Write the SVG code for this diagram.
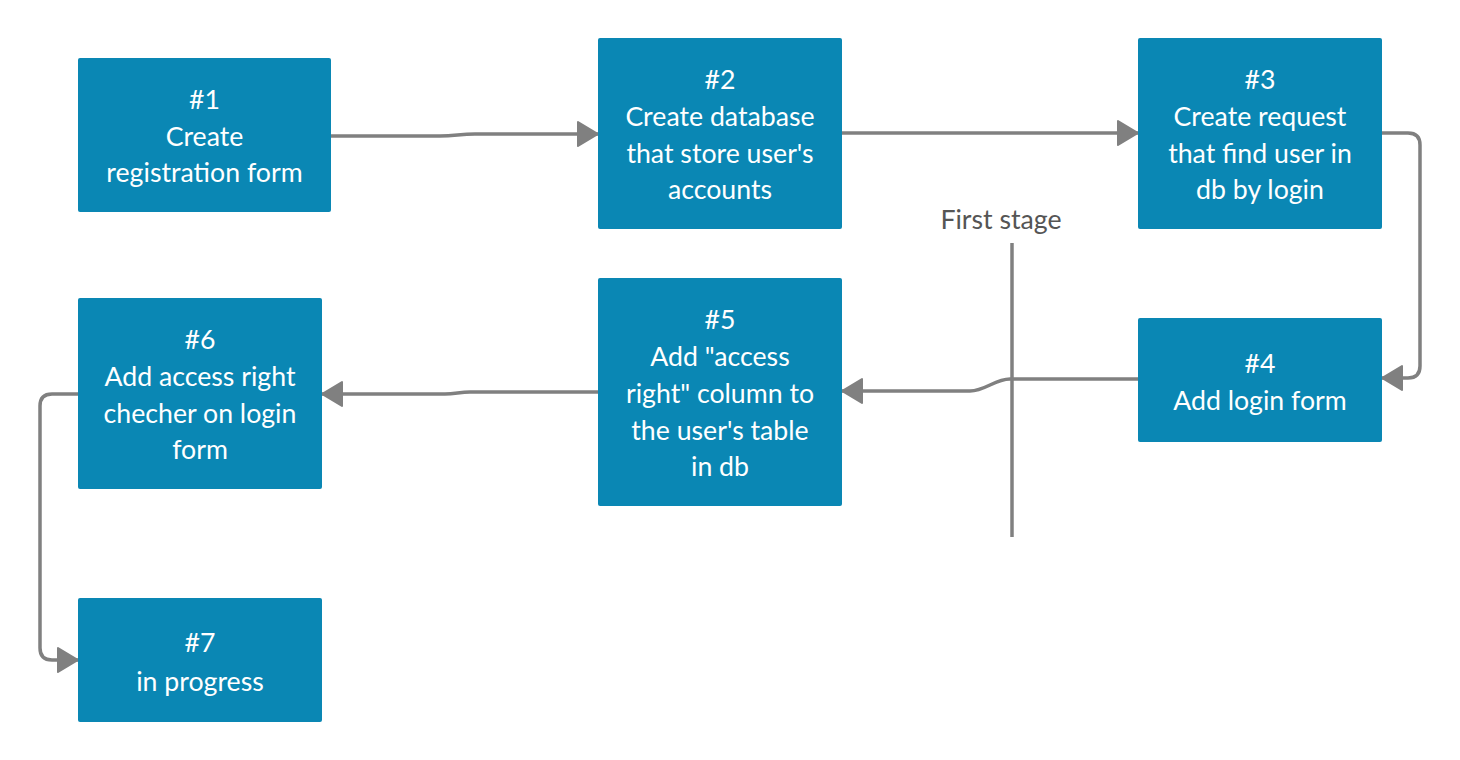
<svg xmlns="http://www.w3.org/2000/svg" width="1460" height="760" viewBox="0 0 1460 760">
<style>
.box{fill:#0a87b4;}
.t{font-family:Lato,"Liberation Sans",sans-serif;font-size:26.7px;fill:#ffffff;text-anchor:middle;}
.c{fill:none;stroke:#808080;stroke-width:3.5;stroke-linejoin:round;}
.lbl{font-family:Lato,"Liberation Sans",sans-serif;font-size:26.7px;fill:#555555;text-anchor:middle;}
</style>
<defs>
<marker id="arr" markerUnits="userSpaceOnUse" markerWidth="26" markerHeight="28" refX="22" refY="13" orient="auto">
<path d="M2,1 L22,13 L2,25 Z" fill="#808080" stroke="#808080" stroke-width="2" stroke-linejoin="round"/>
</marker>
</defs>
<rect width="1460" height="760" fill="#ffffff"/>
<g id="connectors">
<path class="c" d="M331,136 L440,136 C455,136 460,134 475,134 L598,134" marker-end="url(#arr)"/>
<path class="c" d="M842,133 L1138,133" marker-end="url(#arr)"/>
<path class="c" d="M1382,133 L1408,133 Q1420,133 1420,145 L1420,366 Q1420,378 1408,378 L1382,378" marker-end="url(#arr)"/>
<path class="c" d="M1140,379 L1010,379 C995,379 985,391 970,391 L842,391" marker-end="url(#arr)"/>
<path class="c" d="M598,392 L470,392 C460,392 455,394 445,394 L322,394" marker-end="url(#arr)"/>
<path class="c" d="M78,394 L52,394 Q40,394 40,406 L40,648 Q40,660 52,660 L78,660" marker-end="url(#arr)"/>
<path class="c" d="M1012,243 L1012,537"/>
</g>
<text class="lbl" x="1001" y="229">First stage</text>
<g id="n1"><rect class="box" x="78" y="58" width="253" height="154" rx="2"/>
<text class="t" x="204.5" y="109">#1</text><text class="t" x="204.5" y="146">Create</text><text class="t" x="204.5" y="182">registration form</text></g>
<g id="n2"><rect class="box" x="598" y="38" width="244" height="191" rx="2"/>
<text class="t" x="720" y="89">#2</text><text class="t" x="720" y="126">Create database</text><text class="t" x="720" y="163">that store user's</text><text class="t" x="720" y="199">accounts</text></g>
<g id="n3"><rect class="box" x="1138" y="38" width="244" height="191" rx="2"/>
<text class="t" x="1260" y="89">#3</text><text class="t" x="1260" y="126">Create request</text><text class="t" x="1260" y="163">that find user in</text><text class="t" x="1260" y="199">db by login</text></g>
<g id="n4"><rect class="box" x="1138" y="318" width="244" height="124" rx="2"/>
<text class="t" x="1260" y="373">#4</text><text class="t" x="1260" y="410">Add login form</text></g>
<g id="n5"><rect class="box" x="598" y="278" width="244" height="228" rx="2"/>
<text class="t" x="720" y="329">#5</text><text class="t" x="720" y="366">Add "access</text><text class="t" x="720" y="403">right" column to</text><text class="t" x="720" y="440">the user's table</text><text class="t" x="720" y="476">in db</text></g>
<g id="n6"><rect class="box" x="78" y="298" width="244" height="191" rx="2"/>
<text class="t" x="200" y="349">#6</text><text class="t" x="200" y="386">Add access right</text><text class="t" x="200" y="423">checher on login</text><text class="t" x="200" y="459">form</text></g>
<g id="n7"><rect class="box" x="78" y="598" width="244" height="124" rx="2"/>
<text class="t" x="200" y="652">#7</text><text class="t" x="200" y="691">in progress</text></g>
</svg>
